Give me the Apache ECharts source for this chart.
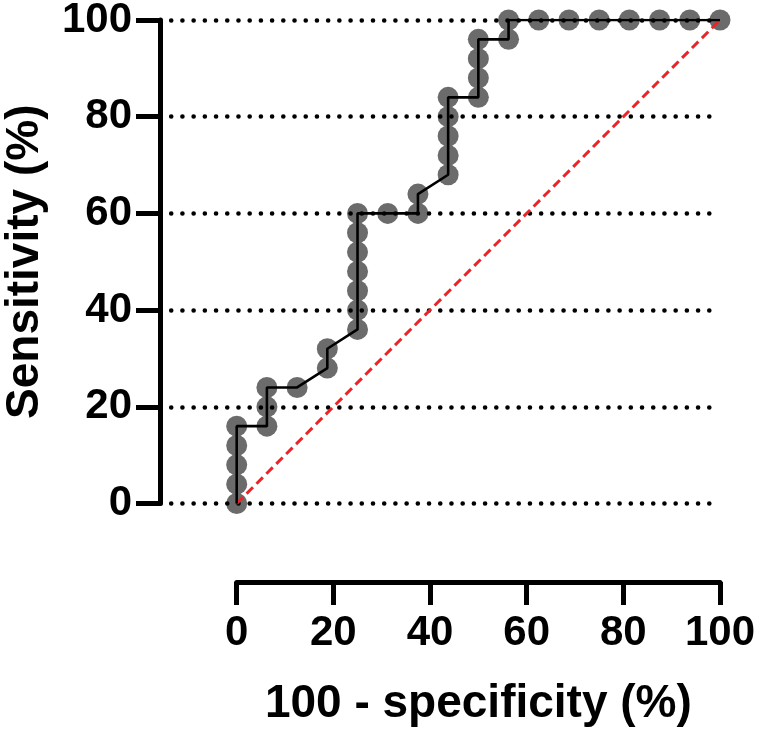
<!DOCTYPE html>
<html>
<head>
<meta charset="utf-8">
<script src="https://cdn.jsdelivr.net/npm/echarts@6/dist/echarts.min.js"></script>
<style>html,body{margin:0;padding:0;background:#fff}#c{width:760px;height:737px}</style>
</head>
<body>
<div id="c"></div>
<script>
// 100 - specificity (%)
const fpr = [0,0,0,0,0,6.25,6.25,6.25,12.5,18.75,18.75,25,25,25,25,25,25,25,31.25,37.5,37.5,43.75,43.75,43.75,43.75,43.75,50,50,50,50,56.25,56.25,62.5,68.75,75,81.25,87.5,93.75,100];
// Sensitivity (%)
const tpr = [0,4,8,12,16,16,20,24,24,28,32,36,40,44,48,52,56,60,60,60,64,68,72,76,80,84,84,88,92,96,96,100,100,100,100,100,100,100,100];
// reference (chance) line
const refX = [0,100];
const refY = [0,100];
const xTicks = [0,20,40,60,80,100];
const yTicks = [0,20,40,60,80,100];

const FONT = "Arial, 'Liberation Sans', sans-serif";
const rocPts = fpr.map((x,i)=>[x,tpr[i]]);
const refPts = refX.map((x,i)=>[x,refY[i]]);

const chart = echarts.init(document.getElementById('c'), null, {renderer:'canvas'});
chart.setOption({
  animation:false,
  backgroundColor:'#fff',
  grid:[
    {left:160, top:20, width:560, height:483.5, containLabel:false, outerBoundsMode:'none'},
    {left:236.7, top:500, width:483.3, height:82, containLabel:false, outerBoundsMode:'none'}
  ],
  xAxis:[
    {gridIndex:0, type:'value', min:-15.87, max:100, show:false},
    {gridIndex:1, type:'value', min:xTicks[0], max:xTicks[xTicks.length-1], interval:20,
     axisLine:{show:true, onZero:false, lineStyle:{color:'#000', width:5}},
     axisTick:{show:true, length:23, lineStyle:{color:'#000', width:5}},
     axisLabel:{color:'#000', fontSize:42, fontWeight:'bold', fontFamily:FONT, margin:30},
     splitLine:{show:false},
     name:'100 - specificity (%)', nameLocation:'middle', nameGap:99,
     nameTextStyle:{color:'#000', fontSize:46, fontWeight:'bold', fontFamily:FONT}}
  ],
  yAxis:[
    {gridIndex:0, type:'value', min:yTicks[0], max:yTicks[yTicks.length-1], interval:20, z:1,
     axisLine:{show:true, onZero:false, lineStyle:{color:'#000', width:5}},
     axisTick:{show:true, length:24, lineStyle:{color:'#000', width:5}},
     axisLabel:{color:'#000', fontSize:42, fontWeight:'bold', fontFamily:FONT, margin:28},
     splitLine:{show:true, lineStyle:{color:'#000', width:4.6, type:[0.01,11.2], cap:'round'}},
     name:'Sensitivity (%)', nameLocation:'middle', nameGap:112,
     nameTextStyle:{color:'#000', fontSize:46, fontWeight:'bold', fontFamily:FONT}},
    {gridIndex:1, type:'value', show:false, min:0, max:1}
  ],
  series:[
    {type:'scatter', xAxisIndex:0, yAxisIndex:0, data:rocPts, symbol:'circle', symbolSize:21, z:0.5,
     itemStyle:{color:'#6b6b6b', opacity:1}, silent:true},
    {type:'line', xAxisIndex:0, yAxisIndex:0, data:refPts, symbol:'none', z:3,
     lineStyle:{color:'#e8262a', width:3, type:[9,5]}, silent:true},
    {type:'line', xAxisIndex:0, yAxisIndex:0, data:rocPts, symbol:'none', z:4,
     lineStyle:{color:'#000', width:2.6}, silent:true}
  ]
});
</script>
</body>
</html>
